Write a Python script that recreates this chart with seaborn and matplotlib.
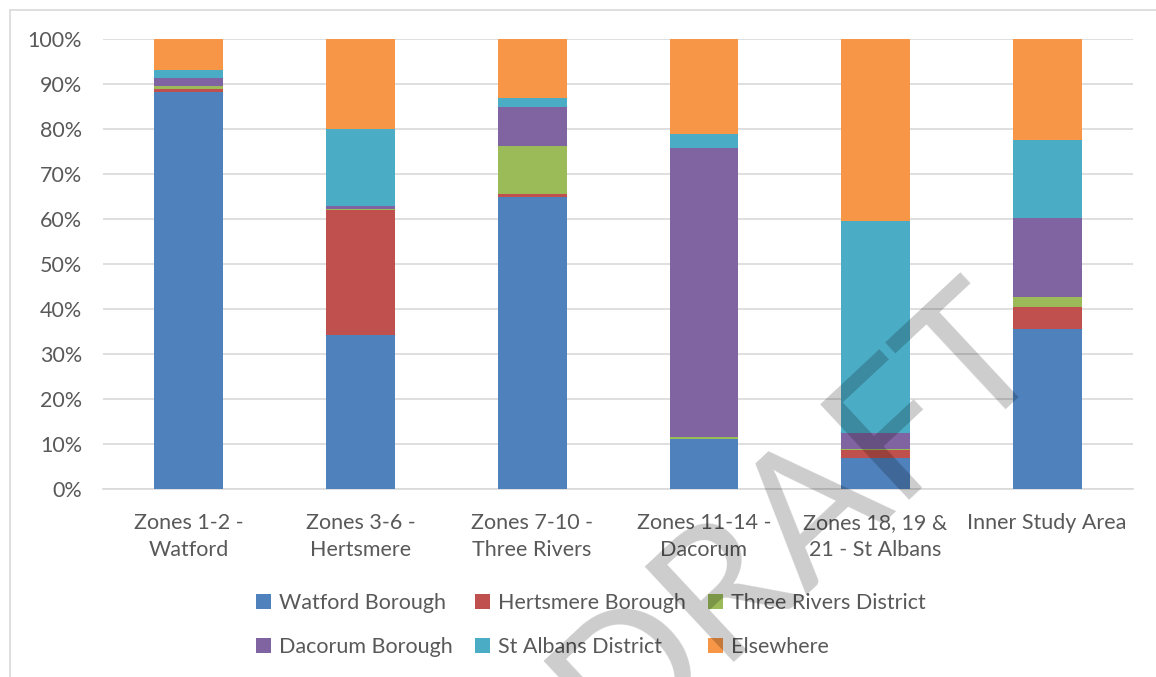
import matplotlib
matplotlib.use("Agg")
import matplotlib.pyplot as plt
import seaborn as sns
import numpy as np
from matplotlib.lines import Line2D
from matplotlib.patches import Patch

zones = ["Zones 1-2 -\nWatford", "Zones 3-6 -\nHertsmere", "Zones 7-10 -\nThree Rivers",
         "Zones 11-14 -\nDacorum", "Zones 18, 19 &\n21 - St Albans", "Inner Study Area"]
series = ["Watford Borough", "Hertsmere Borough", "Three Rivers District",
          "Dacorum Borough", "St Albans District", "Elsewhere"]

watford = [88.2, 34.2, 65.0, 11.1, 7.0, 35.5]
hertsmere = [0.7, 27.8, 0.5, 0.1, 1.7, 4.9]
three_rivers = [0.7, 0.3, 10.7, 0.3, 0.3, 2.3]
dacorum = [1.7, 0.6, 8.8, 64.2, 3.5, 17.5]
st_albans = [1.8, 17.0, 2.0, 3.3, 47.0, 17.3]
elsewhere = [6.9, 20.1, 13.0, 21.0, 40.5, 22.5]

colors = ["#4F81BD", "#C0504D", "#9BBB59", "#8064A2", "#4BACC6", "#F79646"]
txt = "#595959"

sns.set_theme(style="white")
plt.rcParams["font.family"] = ["Lato", "DejaVu Sans"]

fig = plt.figure(figsize=(11.56, 6.77), dpi=100)
ax = fig.add_axes([103 / 1156, 1 - 489 / 677, 1030 / 1156, 450 / 677])

bottom = np.zeros(len(zones))
for name, vals, c in zip(series, [watford, hertsmere, three_rivers, dacorum, st_albans, elsewhere], colors):
    sns.barplot(x=zones, y=vals, bottom=bottom, color=c, width=0.4, linewidth=0,
                saturation=1, ax=ax, zorder=3)
    bottom = bottom + np.array(vals)

ax.set_xlim(-0.5, 5.5)
ax.set_ylim(0, 100)
ax.set_yticks(np.arange(0, 101, 10))
ax.set_yticklabels([f"{v}%" for v in range(0, 101, 10)])
ax.yaxis.grid(True, color="#d9d9d9", linewidth=1.2, zorder=0)
ax.xaxis.grid(False)
for s in ["top", "right", "left"]:
    ax.spines[s].set_visible(False)
ax.spines["bottom"].set_color("#d9d9d9")
ax.spines["bottom"].set_linewidth(1.2)
ax.tick_params(axis="y", length=0, pad=15, labelsize=15.5, labelcolor=txt)
ax.tick_params(axis="x", length=0, pad=17, labelsize=15.5, labelcolor=txt)
for lab in ax.get_xticklabels():
    lab.set_linespacing(1.45)
ax.set_xlabel("")
ax.set_ylabel("")

# legend (column-major order to match Excel row layout)
order = [0, 3, 1, 4, 2, 5]
handles = [Patch(facecolor=colors[i], edgecolor="none") for i in order]
labels = [series[i] for i in order]
leg = fig.legend(handles, labels, loc="center", bbox_to_anchor=(591 / 1156, 1 - 625 / 677),
                 ncol=3, frameon=False, fontsize=15.5, handlelength=0.7, handleheight=0.7,
                 handletextpad=0.4, columnspacing=1.0, labelspacing=1.1)
for t in leg.get_texts():
    t.set_color(txt)

# chart frame
fig.add_artist(Line2D([10 / 1156, 10 / 1156], [0, 1 - 10 / 677], color="#d9d9d9", lw=1.2))
fig.add_artist(Line2D([10 / 1156, 1], [1 - 10 / 677, 1 - 10 / 677], color="#d9d9d9", lw=1.2))

# watermark
fig.text(832 / 1156, 1 - 555 / 677, "DRAFT", fontsize=132, color="black", alpha=0.2,
         rotation=43, rotation_mode="anchor", ha="center", va="baseline", zorder=10)

fig.savefig("out.png", dpi=100)
